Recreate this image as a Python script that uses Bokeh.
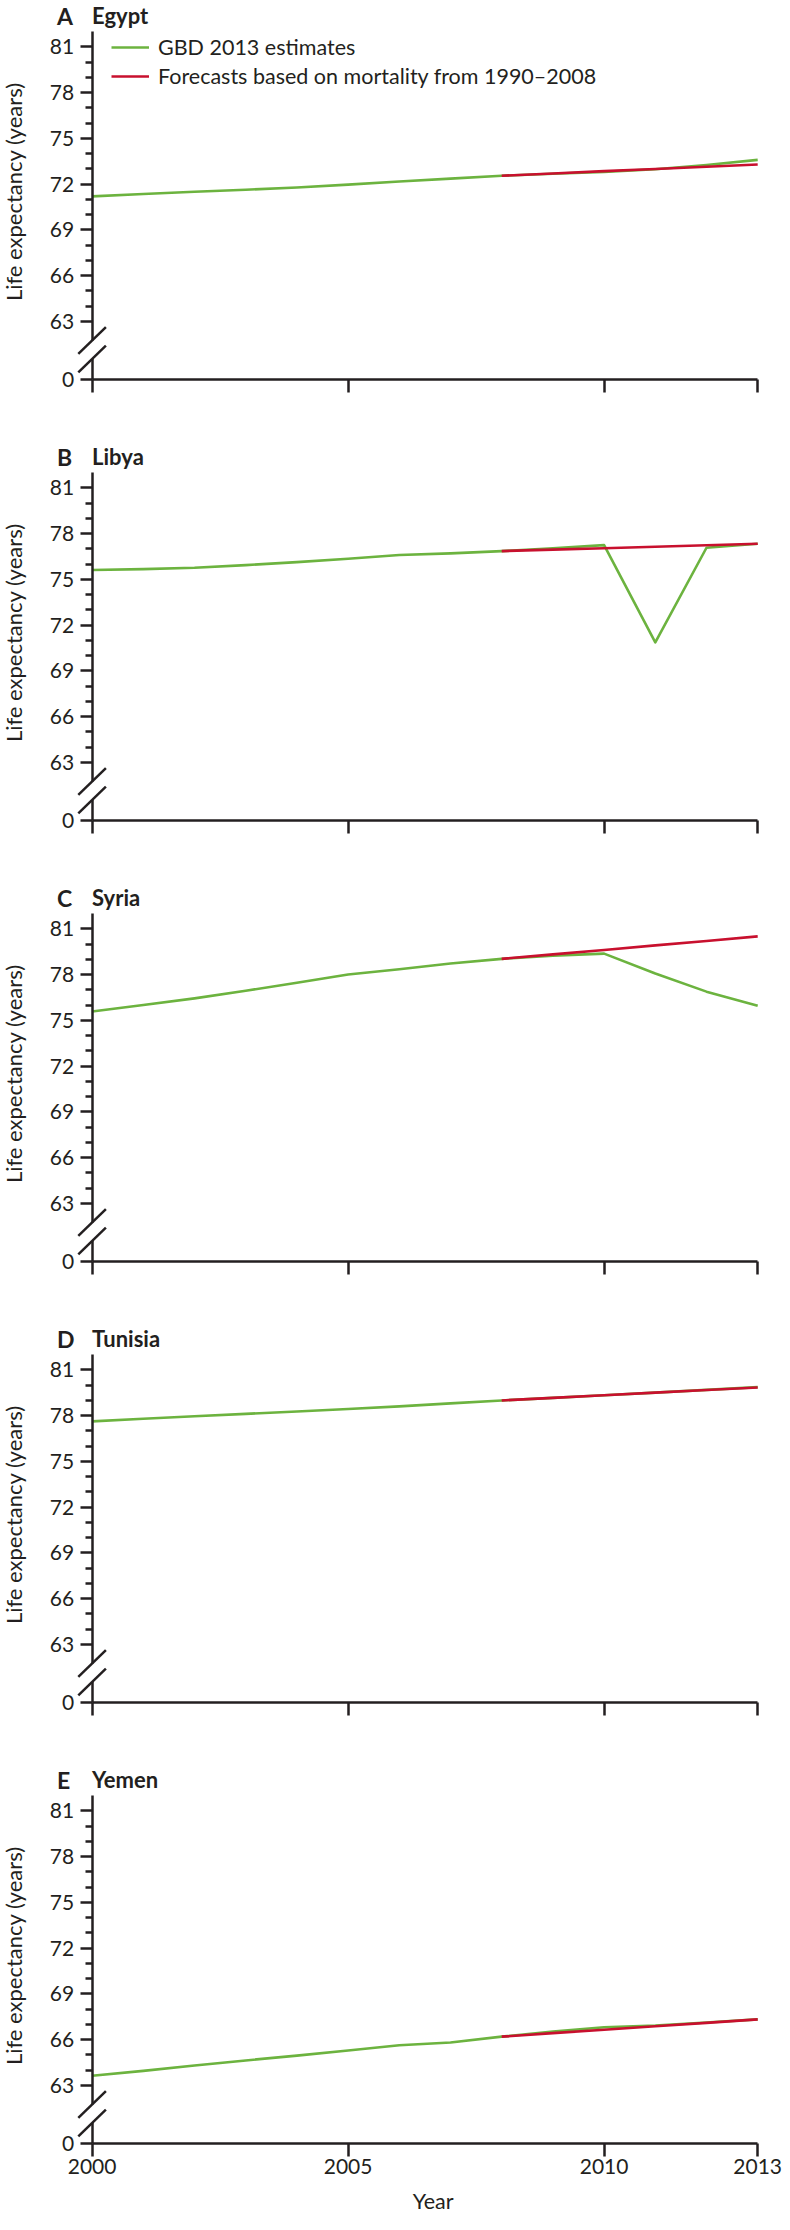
import math
from bokeh.plotting import figure
from bokeh.models import (Range1d, FixedTicker, Label, Legend, LegendItem,
                          BoxAnnotation, Arrow)
from bokeh.layouts import column
from bokeh.embed import file_html
from bokeh.resources import INLINE

# ---------------- data ----------------
years = [2000, 2001, 2002, 2003, 2004, 2005, 2006, 2007, 2008, 2009, 2010, 2011, 2012, 2013]
forecast_years = [2008, 2009, 2010, 2011, 2012, 2013]

egypt_gbd = [71.20, 71.35, 71.50, 71.63, 71.78, 71.97, 72.17, 72.36, 72.55, 72.68, 72.80, 72.98, 73.25, 73.59]
egypt_fc = [72.55, 72.70, 72.85, 72.99, 73.14, 73.29]

libya_gbd = [75.61, 75.67, 75.76, 75.93, 76.13, 76.35, 76.59, 76.70, 76.85, 77.04, 77.24, 70.87, 77.07, 77.33]
libya_fc = [76.85, 76.95, 77.04, 77.14, 77.23, 77.33]

syria_gbd = [75.58, 76.01, 76.44, 76.94, 77.46, 78.00, 78.35, 78.72, 79.03, 79.24, 79.37, 78.07, 76.88, 75.95]
syria_fc = [79.03, 79.32, 79.61, 79.91, 80.20, 80.50]

tunisia_gbd = [77.62, 77.79, 77.95, 78.11, 78.27, 78.43, 78.60, 78.80, 78.99, 79.16, 79.33, 79.50, 79.68, 79.86]
tunisia_fc = [78.99, 79.16, 79.33, 79.50, 79.67, 79.84]

yemen_gbd = [63.64, 63.96, 64.31, 64.64, 64.96, 65.29, 65.64, 65.82, 66.20, 66.53, 66.82, 66.93, 67.13, 67.33]
yemen_fc = [66.20, 66.43, 66.65, 66.88, 67.10, 67.33]

panel_letters = ["A", "B", "C", "D", "E"]
countries = ["Egypt", "Libya", "Syria", "Tunisia", "Yemen"]
gbd_series = [egypt_gbd, libya_gbd, syria_gbd, tunisia_gbd, yemen_gbd]
fc_series = [egypt_fc, libya_fc, syria_fc, tunisia_fc, yemen_fc]

y_ticks = [63, 66, 69, 72, 75, 78, 81]
x_ticks = [2000, 2005, 2010, 2013]
legend_labels = ["GBD 2013 estimates", "Forecasts based on mortality from 1990\u20132008"]

# ---------------- style / geometry ----------------
FONT = "Lato"
INK = "#231f20"
GREEN = "#6cb33f"
RED = "#c8102e"

Y_BREAK = 59.2          # value position where "0" is shown below the axis break
Y_TOP = 82.0            # top end of the y axis
FRAME_W = 782
HEIGHTS = [441, 441, 441, 441, 450]
X0_PX = 91.6            # pixel of year 2000 from the left edge
XPX = 51.2              # pixels per year
TOP_PX = 31             # pixel of Y_TOP from the top edge
AXIS_H = 348            # pixels from Y_TOP down to Y_BREAK
PPU = AXIS_H / (Y_TOP - Y_BREAK)

break_hi = 63 - 19.0 / PPU
break_lo = 63 - 37.5 / PPU


def style_axis(ax):
    ax.axis_line_color = INK
    ax.axis_line_width = 2.5
    ax.major_tick_line_color = INK
    ax.major_tick_line_width = 2.5
    ax.minor_tick_line_color = INK
    ax.minor_tick_line_width = 2.5
    ax.major_tick_in = 0
    ax.minor_tick_in = 0
    ax.major_label_text_font = FONT
    ax.major_label_text_font_size = "21px"
    ax.major_label_text_color = INK


def make_panel(i):
    last = i == 4
    H = HEIGHTS[i]
    x_range = Range1d(2000 - X0_PX / XPX, 2000 + (FRAME_W - X0_PX) / XPX)
    y_range = Range1d(Y_BREAK - (H - TOP_PX - AXIS_H) / PPU, Y_TOP + TOP_PX / PPU)
    p = figure(frame_width=FRAME_W, frame_height=H, min_border=0,
               x_range=x_range, y_range=y_range,
               output_backend="svg", toolbar_location=None,
               outline_line_color=None, border_fill_color="white",
               background_fill_color="white")
    p.xgrid.visible = False
    p.ygrid.visible = False

    # y axis (drawn at year 2000)
    ya = p.yaxis[0]
    style_axis(ya)
    ya.fixed_location = 2000
    ya.bounds = (Y_BREAK, Y_TOP)
    ya.ticker = FixedTicker(ticks=[Y_BREAK] + y_ticks,
                            minor_ticks=[v for v in range(63, 82) if v % 3 != 0])
    ya.major_label_overrides = {Y_BREAK: "0"}
    ya.major_tick_out = 12
    ya.minor_tick_out = 7
    ya.major_label_standoff = 6

    # x axis (drawn at the "0" level)
    xa = p.xaxis[0]
    style_axis(xa)
    xa.fixed_location = Y_BREAK
    xa.bounds = (2000, 2013)
    xa.ticker = FixedTicker(ticks=x_ticks, minor_ticks=[])
    xa.minor_tick_line_color = None
    xa.major_tick_out = 13
    xa.major_label_standoff = 2
    if not last:
        xa.major_label_overrides = {t: "" for t in x_ticks}

    # data
    r1 = p.line(years, gbd_series[i], line_color=GREEN, line_width=2.6, line_join="round")
    r2 = p.line(forecast_years, fc_series[i], line_color=RED, line_width=2.6, line_join="round")

    if i == 0:
        leg = Legend(items=[LegendItem(label=legend_labels[0], renderers=[r1]),
                            LegendItem(label=legend_labels[1], renderers=[r2])],
                     location=(111, H - TOP_PX - 59), padding=1, margin=0, spacing=1,
                     glyph_width=38, glyph_height=28, label_height=28,
                     label_standoff=9, border_line_color=None,
                     background_fill_alpha=0,
                     label_text_font=FONT, label_text_font_size="21.5px",
                     label_text_color=INK)
        p.add_layout(leg)

    # panel title
    p.add_layout(Label(x=2000, y=Y_TOP, x_offset=-35, y_offset=16, text=panel_letters[i],
                       text_font=FONT, text_font_size="23px", text_font_style="bold",
                       text_color=INK, text_align="left", text_baseline="alphabetic"))
    p.add_layout(Label(x=2000, y=Y_TOP, x_offset=0, y_offset=16, text=countries[i],
                       text_font=FONT, text_font_size="22px", text_font_style="bold",
                       text_color=INK, text_align="left", text_baseline="alphabetic"))

    # y axis title
    p.add_layout(Label(x=2000, y=71.5, x_offset=-(X0_PX - 13), text="Life expectancy (years)",
                       angle=math.pi / 2, text_font=FONT, text_font_size="22px",
                       text_color=INK, text_align="center", text_baseline="middle"))

    # axis break: white gap in the axis line + two slashes
    p.add_layout(BoxAnnotation(left=2000 - 5 / XPX, right=2000 + 5 / XPX,
                               bottom=break_lo, top=break_hi,
                               fill_color="white", fill_alpha=1.0,
                               line_color=None, line_alpha=0))
    for yc in (break_hi, break_lo):
        p.add_layout(Arrow(end=None, start=None,
                           x_start=2000 - 13.8 / XPX, y_start=yc - 13.3 / PPU,
                           x_end=2000 + 13.8 / XPX, y_end=yc + 13.3 / PPU,
                           line_color=INK, line_width=2.5))

    if last:
        p.add_layout(Label(x=2000 + 341 / XPX, y=Y_BREAK, y_offset=-57, text="Year",
                           text_font=FONT, text_font_size="21.5px", text_color=INK,
                           text_align="center", text_baseline="middle"))
    return p


figs = [make_panel(i) for i in range(5)]
layout = column(*figs, spacing=0)
open("out.html", "w").write(file_html(layout, INLINE))
